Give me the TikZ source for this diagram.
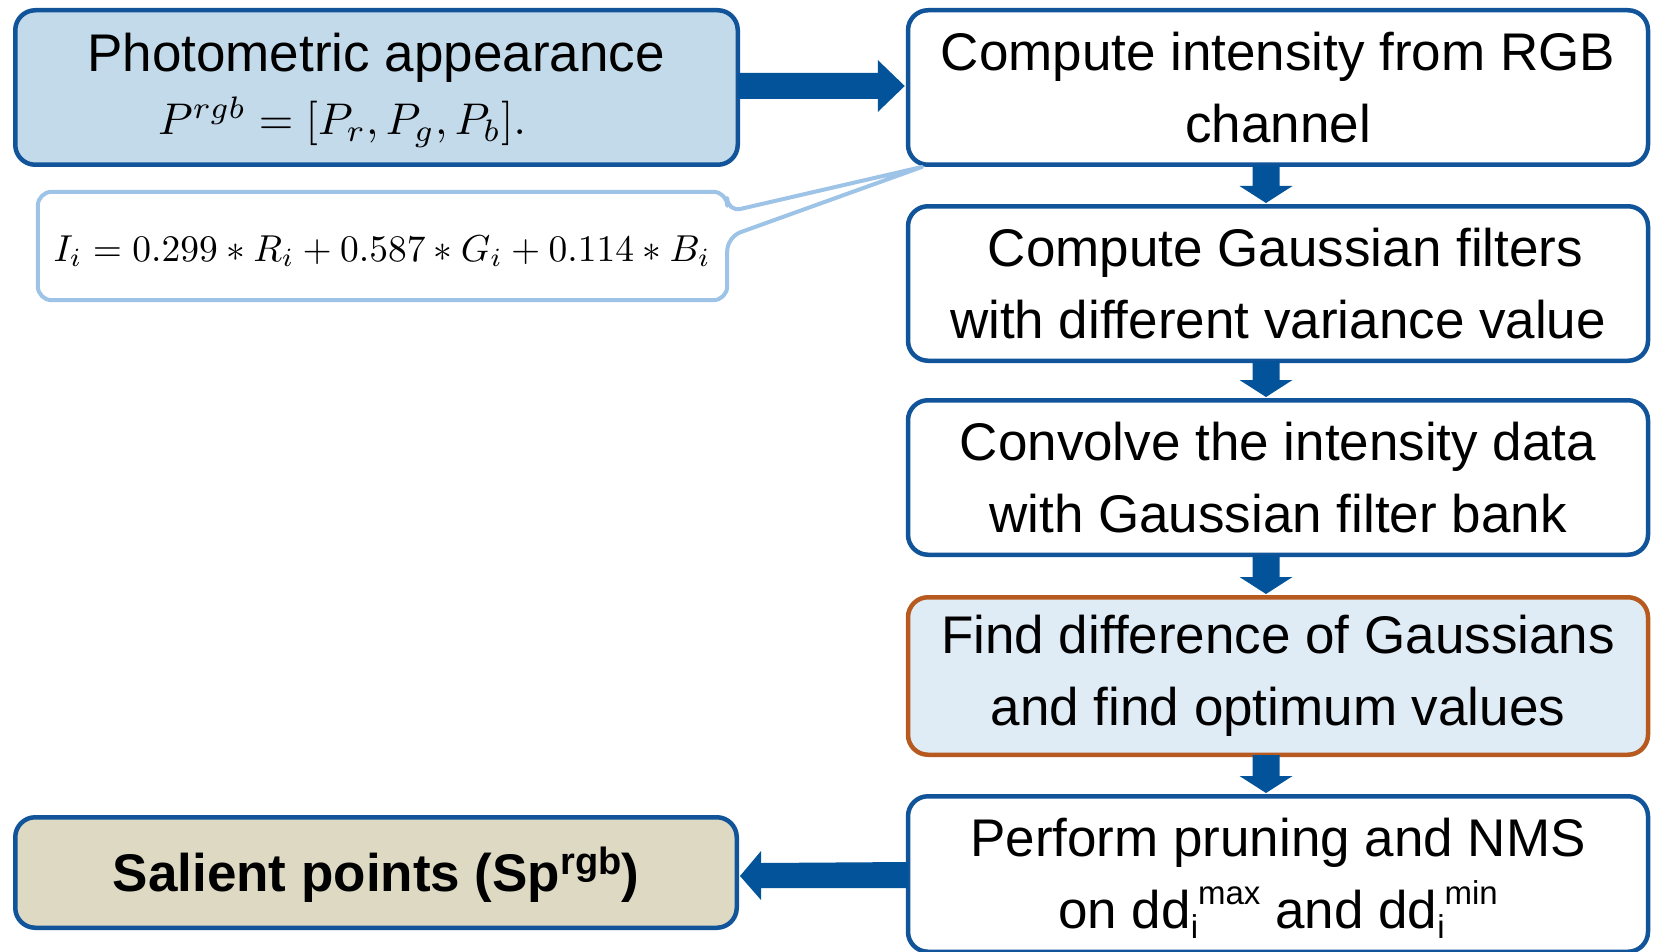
\documentclass[tikz,border=0pt]{standalone}
\usepackage{graphicx}
\usepackage[no-math]{fontspec}
\setmainfont{Liberation Sans}
\usetikzlibrary{calc}
\definecolor{bdr}{HTML}{11549A}
\definecolor{arrc}{HTML}{03539A}
\definecolor{photofill}{HTML}{C3DAEA}
\definecolor{salfill}{HTML}{DDD9C3}
\definecolor{orgbdr}{HTML}{B65A1F}
\definecolor{orgfill}{HTML}{DFEBF5}
\definecolor{callbdr}{HTML}{9DC3E6}
\newcommand\subsuptxt[2]{\raisebox{-10pt}[0pt][0pt]{\fontsize{33}{33}\selectfont #1}\raisebox{24pt}[0pt][0pt]{\fontsize{33}{33}\selectfont #2}}
\newcommand\bigmath[2]{\scalebox{#1}{\fontsize{10}{12}\selectfont$#2$}}
\newcommand\dnarr[2]{%
  \fill[arrc] ($(#1.south)+(-25.5,-2)$) -- ($(#2.north)+(-25.5,-18)$) -- ($(#2.north)+(-38.5,-18)$)
    -- ($(#2.north)+(-12,-1)$) -- ($(#2.north)+(14.5,-18)$) -- ($(#2.north)+(1.5,-18)$)
    -- ($(#1.south)+(1.5,-2)$) -- cycle;}
\begin{document}
\begin{tikzpicture}[x=1pt,y=-1pt,
  box/.style={draw=bdr, line width=4.5pt, rounded corners=20pt, fill=white, inner sep=0pt,
    align=center, font=\fontsize{53}{72}\selectfont},
  rbox/.style={box, minimum width=740pt, minimum height=154.5pt},
  lbl/.style={inner sep=0pt, anchor=base}]
\useasboundingbox (0,0) rectangle (1653,952);

% left boxes
\node[box, fill=photofill, minimum width=722.5pt, minimum height=154.5pt] (photo) at (376.5,87.5) {};
\node[lbl, font=\fontsize{53}{60}\selectfont] (ptitle) at (376,72) {Photometric appearance};
\node[lbl] (pform) at (342,135) {\bigmath{4.44}{P^{rgb} = [P_r, P_g, P_b].}};

\node[box, fill=salfill, minimum width=721.5pt, minimum height=110.5pt,
  font=\fontsize{53}{60}\selectfont\bfseries, text height=38pt, text depth=0pt] (sal) at (376,872.5)
  {Salient points (Sp\raisebox{17pt}{\fontsize{38}{38}\selectfont rgb})};

% callout
\node[inner sep=0pt, minimum width=689pt, minimum height=108pt] (ca) at (382.5,246) {};
\node[lbl] (cform) at (382,261)
  {\bigmath{3.75}{I_i = 0.299 \ast R_i + 0.587 \ast G_i + 0.114 \ast B_i}};

% right column
\node[rbox] (b1) at (1278,87.5) {Compute intensity from RGB\\channel};
\node[rbox] (b2) at (1278,283.5) {\hspace*{15pt}Compute Gaussian filters\\with different variance value};
\node[rbox] (b3) at (1278,477.5) {Convolve the intensity data\\with Gaussian filter bank};
\node[rbox, draw=orgbdr, fill=orgfill, minimum height=157.5pt] (b4) at (1278,676) {Find difference of Gaussians\\and find optimum values};
\node[rbox, minimum height=155.5pt] (b5) at (1278,874) {Perform pruning and NMS\\on dd\subsuptxt{i}{max} and dd\subsuptxt{i}{min}};

\coordinate (tip) at ($(b1.south west)+(16,0)$);
\draw[callbdr, line width=4pt, rounded corners=14pt, line cap=round, line join=round]
  (tip) -- ($(ca.east)+(0,-34)$) -- (ca.north east) -- (ca.north west) -- (ca.south west)
  -- (ca.south east) -- ($(ca.east)+(0,-9)$) -- (tip);

% arrows
\fill[arrc] ($(photo.east)+(-2,-14.5)$) -- ($(b1.west)+(-28,-14.5)$) -- ($(b1.west)+(-28,-27.5)$)
  -- ($(b1.west)+(-1,-1.5)$) -- ($(b1.west)+(-28,24.5)$) -- ($(b1.west)+(-28,11.5)$)
  -- ($(photo.east)+(-2,11.5)$) -- cycle;
\dnarr{b1}{b2}
\dnarr{b2}{b3}
\dnarr{b3}{b4}
\dnarr{b4}{b5}
\fill[arrc] ($(b5.west)+(2,-12)$) -- ($(sal.east)+(22,-9.5)$) -- ($(sal.east)+(22,-21.5)$)
  -- ($(sal.east)+(1,3.5)$) -- ($(sal.east)+(22,27.5)$) -- ($(sal.east)+(22,15.5)$)
  -- ($(b5.west)+(2,14)$) -- cycle;
\end{tikzpicture}
\end{document}
